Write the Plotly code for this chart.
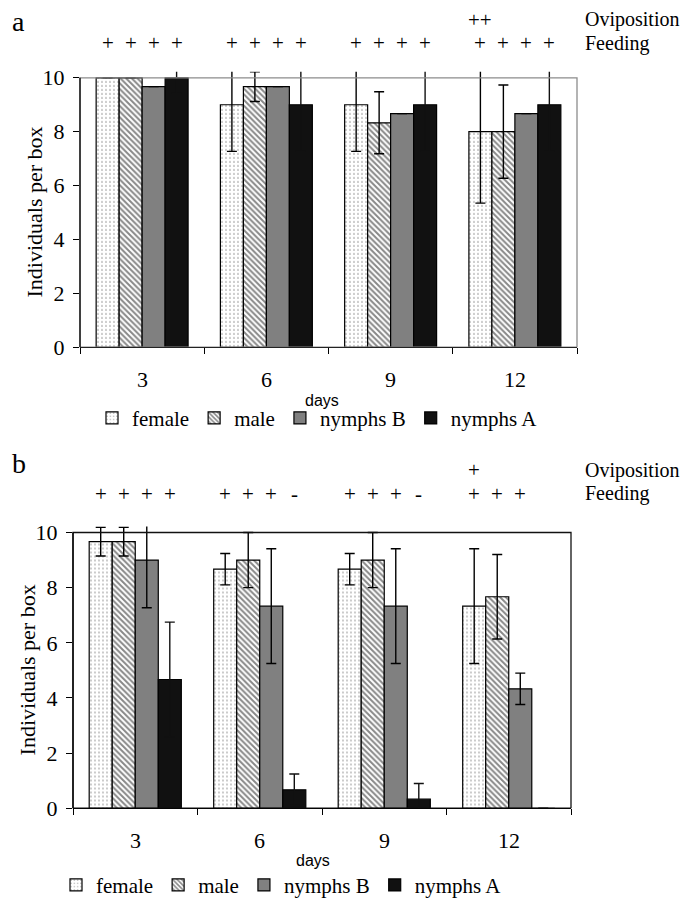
import plotly.graph_objects as go

# ---------------- data ----------------
days = ["3", "6", "9", "12"]
series_names = ["female", "male", "nymphs B", "nymphs A"]

# panel a (means and SD, individuals per box)
a_female = [10.0, 9.0, 9.0, 8.0]
a_male = [10.0, 9.67, 8.33, 8.0]
a_nymphs_b = [9.67, 9.67, 8.67, 8.67]
a_nymphs_a = [10.0, 9.0, 9.0, 9.0]
a_female_sd = [0.0, 1.73, 1.73, 2.65]
a_male_sd = [0.0, 0.55, 1.15, 1.73]
a_nymphs_b_sd = [0.0, 0.0, 0.0, 0.0]
a_nymphs_a_sd = [0.58, 1.73, 1.73, 1.73]

# panel b
b_female = [9.67, 8.67, 8.67, 7.33]
b_male = [9.67, 9.0, 9.0, 7.67]
b_nymphs_b = [9.0, 7.33, 7.33, 4.33]
b_nymphs_a = [4.67, 0.67, 0.33, 0.0]
b_female_sd = [0.52, 0.57, 0.57, 2.08]
b_male_sd = [0.52, 1.0, 1.0, 1.53]
b_nymphs_b_sd = [1.73, 2.08, 2.08, 0.57]
b_nymphs_a_sd = [2.08, 0.57, 0.57, 0.0]

# activity marks above each bar (per day, per series)
a_feeding = [["+", "+", "+", "+"], ["+", "+", "+", "+"], ["+", "+", "+", "+"], ["+", "+", "+", "+"]]
a_oviposition = [["", "", "", ""], ["", "", "", ""], ["", "", "", ""], ["++", "", "", ""]]
b_feeding = [["+", "+", "+", "+"], ["+", "+", "+", "-"], ["+", "+", "+", "-"], ["+", "+", "+", ""]]
b_oviposition = [["", "", "", ""], ["", "", "", ""], ["", "", "", ""], ["+", "", "", ""]]

y_ticks = [0, 2, 4, 6, 8, 10]

# ---------------- styles ----------------
SERIF = "Liberation Serif, Times New Roman, serif"
SANS = "Liberation Sans, Arial, sans-serif"
BARGAP = 0.26
YMAX = 10.22

styles = [
    dict(color="white", pattern=dict(shape=".", fgcolor="#333", bgcolor="white", size=4, solidity=0.14)),
    dict(color="white", pattern=dict(shape="\\", fgcolor="#111", bgcolor="white", size=4, solidity=0.5)),
    dict(color="#808080"),
    dict(color="#111111"),
]
err_colors = ["black", "black", "black", "#111111"]

panels = [
    dict(vals=[a_female, a_male, a_nymphs_b, a_nymphs_a],
         sds=[a_female_sd, a_male_sd, a_nymphs_b_sd, a_nymphs_a_sd],
         feed=a_feeding, ovi=a_oviposition,
         xdom=[80 / 688, 577 / 688], y0=348.5, y10=73.3,
         frame="#8c8c8c", letter="a", letter_y=16, ovi_y=14, feed_y=38,
         ticklab_y=381, days_y=403, days_x=322, ytitle_x=35, legend_y=421, legend_x=92),
    dict(vals=[b_female, b_male, b_nymphs_b, b_nymphs_a],
         sds=[b_female_sd, b_male_sd, b_nymphs_b_sd, b_nymphs_a_sd],
         feed=b_feeding, ovi=b_oviposition,
         xdom=[73 / 688, 571 / 688], y0=819.3, y10=537.7,
         frame="#111111", letter="b", letter_y=467, ovi_y=474, feed_y=498,
         ticklab_y=852, days_y=873, days_x=313, ytitle_x=27, legend_y=898, legend_x=56),
]

H = 913.0
fig = go.Figure()
annotations = []
shapes = []
layout_axes = {}

for p_i, p in enumerate(panels):
    n = p_i + 1
    xa = "x" if n == 1 else f"x{n}"
    ya = "y" if n == 1 else f"y{n}"
    legend_name = "legend" if n == 1 else f"legend{n}"
    ppu = (p["y0"] - p["y10"]) / 10.0
    ytop_px = p["y10"] - (YMAX - 10) * ppu
    ydom = [1 - p["y0"] / H, 1 - ytop_px / H]

    for s_i, name in enumerate(series_names):
        fig.add_trace(go.Bar(
            x=days, y=p["vals"][s_i], name=name,
            xaxis=xa, yaxis=ya, legend=legend_name,
            marker=dict(line=dict(color="black", width=1.2), **styles[s_i]),
            error_y=dict(type="data", array=p["sds"][s_i], visible=True,
                         color=err_colors[s_i], thickness=1.4, width=5),
            hoverinfo="x+y+name",
        ))

    xkey = "xaxis" if n == 1 else f"xaxis{n}"
    ykey = "yaxis" if n == 1 else f"yaxis{n}"
    layout_axes[xkey] = dict(
        domain=p["xdom"], anchor=ya, type="category",
        showline=True, linecolor="black", linewidth=1.3,
        ticks="outside", tickson="boundaries", ticklen=6, tickwidth=1.3, tickcolor="black",
        showticklabels=False, showgrid=False, zeroline=False, fixedrange=True,
    )
    layout_axes[ykey] = dict(
        domain=ydom, anchor=xa, range=[0, YMAX],
        tickvals=y_ticks, ticks="outside", ticklen=6, tickwidth=1.3, tickcolor="black",
        showline=False, showgrid=False, zeroline=False,
        tickfont=dict(family=SERIF, size=22, color="black"),
        ticklabelstandoff=4, fixedrange=True,
    )

    # frame of the plot area (0..10)
    shapes.append(dict(type="rect", xref=f"{xa} domain", yref=ya, x0=0, x1=1, y0=0, y1=10,
                       line=dict(color=p["frame"], width=1.3), fillcolor="rgba(0,0,0,0)", layer="above"))
    shapes.append(dict(type="line", xref=f"{xa} domain", yref=ya, x0=0, x1=0, y0=0, y1=10,
                       line=dict(color="black", width=1.3), layer="above"))

    # category labels (days)
    for d_i, d in enumerate(days):
        annotations.append(dict(text=d, x=d_i, xref=xa, y=1 - p["ticklab_y"] / H, yref="paper",
                                showarrow=False, xanchor="center", yanchor="middle",
                                font=dict(family=SERIF, size=22, color="black")))

    # activity marks
    bw = (1 - BARGAP) / len(series_names)
    for d_i in range(len(days)):
        for s_i in range(len(series_names)):
            xpos = d_i + (s_i - (len(series_names) - 1) / 2) * bw
            for marks, ypx in ((p["feed"], p["feed_y"]), (p["ovi"], p["ovi_y"])):
                t = marks[d_i][s_i]
                if t:
                    annotations.append(dict(text=t, x=xpos, xref=xa, y=1 - ypx / H, yref="paper",
                                            showarrow=False, xanchor="center", yanchor="middle",
                                            font=dict(family=SERIF, size=21, color="black")))

    annotations += [
        dict(text="Oviposition", x=583 / 688, xref="paper", y=1 - p["ovi_y"] / H, yref="paper",
             showarrow=False, xanchor="left", yanchor="middle",
             font=dict(family=SERIF, size=20, color="black")),
        dict(text="Feeding", x=583 / 688, xref="paper", y=1 - p["feed_y"] / H, yref="paper",
             showarrow=False, xanchor="left", yanchor="middle",
             font=dict(family=SERIF, size=20, color="black")),
        dict(text=p["letter"], x=10 / 688, xref="paper", y=1 - p["letter_y"] / H, yref="paper",
             showarrow=False, xanchor="left", yanchor="middle",
             font=dict(family=SERIF, size=28, color="black")),
        dict(text="days", x=p["days_x"] / 688, xref="paper", y=1 - p["days_y"] / H, yref="paper",
             showarrow=False, xanchor="center", yanchor="middle",
             font=dict(family=SANS, size=16, color="black")),
        dict(text="Individuals per box", x=p["ytitle_x"] / 688, xref="paper",
             y=1 - (p["y0"] + p["y10"]) / 2 / H, yref="paper", textangle=-90,
             showarrow=False, xanchor="center", yanchor="middle",
             font=dict(family=SERIF, size=22, color="black")),
    ]

    layout_axes[legend_name] = dict(
        orientation="h", x=p["legend_x"] / 688, xanchor="left",
        y=1 - p["legend_y"] / H, yanchor="middle",
        font=dict(family=SERIF, size=21, color="black"),
        itemwidth=30, tracegroupgap=0, bgcolor="rgba(0,0,0,0)",
    )

fig.update_layout(
    width=688, height=913,
    margin=dict(l=0, r=0, t=0, b=0),
    paper_bgcolor="white", plot_bgcolor="white",
    barmode="group", bargap=BARGAP, bargroupgap=0,
    annotations=annotations, shapes=shapes,
    **layout_axes,
)

fig.write_html("out.html", config={"displayModeBar": False},
               post_script="document.body.style.margin='0px';")
